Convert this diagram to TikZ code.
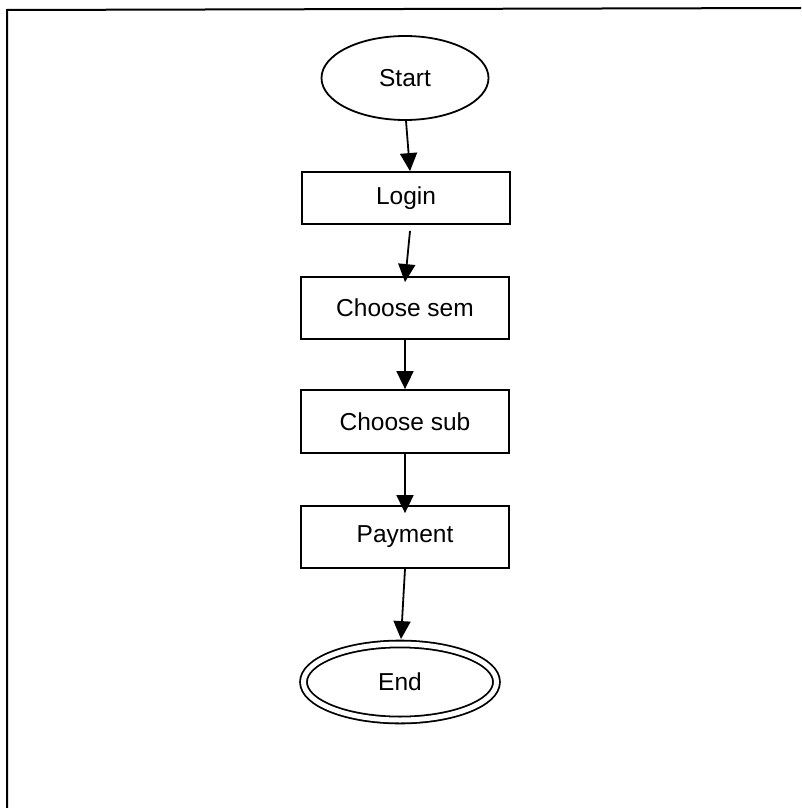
\documentclass[tikz,border=0pt]{standalone}
\usepackage{fontspec}
\setmainfont{Liberation Sans}
\usetikzlibrary{shapes.geometric,arrows.meta}
\begin{document}
\begin{tikzpicture}[x=1pt,y=-1pt,
  txt/.style={font=\fontsize{24.5}{28}\selectfont, inner sep=0pt},
  oval/.style={txt, draw, ellipse, line width=1.8pt},
  stepbox/.style={txt, draw, rectangle, line width=1.8pt, minimum width=208pt},
  arr/.style={line width=1.8pt, -{Triangle[width=17pt,length=18pt]}},
  frame/.style={line width=2pt}]
\useasboundingbox (0,0) rectangle (801,808);
\coordinate (f1) at (7,10);
\coordinate (f2) at (801,8);
\coordinate (f3) at (7,808);
\draw[frame] (f3) -- (f1) -- (f2);

\node[oval, minimum width=167pt, minimum height=84pt] (start) at (405,78) {Start};
\node[stepbox, minimum height=52pt] (login) at (406,198) {Login};
\node[stepbox, minimum height=62pt] (sem) at (405,308) {Choose sem};
\node[stepbox, minimum height=63pt] (sub) at (405,421.5) {Choose sub};
\node[stepbox, minimum height=62pt] (pay) at (405,537) {Payment};
\node[txt, draw, ellipse, line width=1.8pt, double, double distance=5pt,
      minimum width=193pt, minimum height=76pt] (end) at (400,682) {End};

\draw[arr] ([xshift=1pt]start.south) -- ([xshift=4pt]login.north);
\draw[arr] ([xshift=4pt,yshift=-6pt]login.south) -- ([yshift=-6pt]sem.north);
\draw[arr] (sem.south) -- (sub.north);
\draw[arr] (sub.south) -- ([yshift=-8pt]pay.north);
\draw[arr] (pay.south) -- ([xshift=1pt,yshift=4pt]end.north);
\end{tikzpicture}
\end{document}
